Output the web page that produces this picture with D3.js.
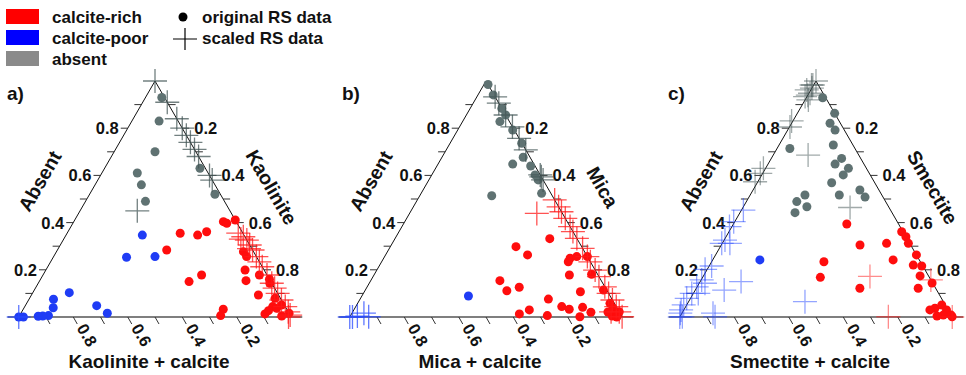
<!DOCTYPE html>
<html><head><meta charset="utf-8">
<script src="https://cdn.jsdelivr.net/npm/d3@7"></script>
<style>
body{margin:0;background:#fff}
svg{display:block}
text{font-family:"Liberation Sans",Arial,sans-serif;font-weight:bold;fill:#111}
</style>
</head><body>
<svg id="chart" width="966" height="375"></svg>
<script>
// ---------- data: each point is [Absent fraction, (mineral + calcite) fraction] ----------
const panelLabels = ["a)", "b)", "c)"];
const mineralNames = ["Kaolinite", "Mica", "Smectite"];
const bottomTitles = ["Kaolinite + calcite", "Mica + calcite", "Smectite + calcite"];
const leftTitle = "Absent";
const tickValues = [0.2, 0.4, 0.6, 0.8];
const tickLabels = ["0.2", "0.4", "0.6", "0.8"];
const minorTickValues = [0.1, 0.2, 0.3, 0.4, 0.5, 0.6, 0.7, 0.8, 0.9];
const legendGroups = ["calcite-rich", "calcite-poor", "absent"];
const legendMarkers = ["original RS data", "scaled RS data"];

// Panel a (Kaolinite)
const aAbsentDots = [[0.93,0.01],[0.83,0.07],[0.70,0.15],[0.61,0.26],[0.56,0.27],[0.49,0.29],[0.63,0.02],[0.52,0.02]];
const aAbsentCross = [[1.0,0],[0.91,0],[0.84,0],[0.80,0],[0.77,0],[0.74,0],[0.71,0],[0.68,0],[0.60,0],[0.58,0],[0.45,0.34]];
const aRichDots = [[0.355,0.23],[0.347,0.17],[0.361,0.13],[0.284,0.315],[0.404,0.047],[0.397,0.038],[0.411,0.0],[0.15,0.30],[0.178,0.24],[0.277,0.037],[0.256,0.036],[0.199,0.07],[0.154,0.089],[0.178,0.028],[0.093,0.074],[0.16,0.0],[0.143,0.007],[0.079,0.02],[0.044,0.046],[0.051,0.01],[0.027,0.07],[0.013,0.09],[0.033,0.233],[0.006,0.256],[0.004,0.033],[0.016,0.0],[0.037,0.035]];
const aRichCross = [[0.355,0.017],[0.34,0.006],[0.33,0.02],[0.326,0],[0.305,0],[0.29,0.01],[0.284,0],[0.256,0],[0.234,0],[0.213,0],[0.178,0],[0.143,0],[0.122,0],[0.10,0],[0.072,0],[0.044,0],[0.022,0],[0.008,0],[0.0,0.01]];
const aPoorDots = [[0.347,0.373],[0.253,0.478],[0.256,0.372],[0.103,0.763],[0.075,0.835],[0.039,0.854],[0.048,0.69],[0.016,0.667],[0.006,0.888],[0.004,0.91],[0.003,0.927],[0,0.983],[0,1.0]];
const aPoorCross = [[0,1.0]];

// Panel b (Mica)
const bAbsentDots = [[0.985,0],[0.941,0.003],[0.884,0],[0.828,0.035],[0.856,0],[0.792,0.006],[0.736,0.001],[0.677,0.025],[0.648,0.078],[0.64,0.016],[0.602,0.019],[0.581,0.018],[0.514,0.222],[0.524,0.034]];
const bAbsentCross = [[0.933,0],[0.906,0],[0.856,0],[0.806,0],[0.757,0],[0.708,0],[0.602,0],[0.581,0],[0.594,0]];
const bRichDots = [[0.332,0.10],[0.298,0.241],[0.263,0.216],[0.154,0.372],[0.111,0.368],[0.126,0.315],[0.076,0.233],[0.03,0.326],[0.013,0.371],[0.006,0.272],[0.044,0.20],[0.033,0.178],[0.001,0.155],[0.041,0.125],[0.02,0.105],[0.249,0.067],[0.234,0.081],[0.256,0.039],[0.256,0.0],[0.178,0.105],[0.181,0.022],[0.107,0.10],[0.114,0.012],[0.058,0.016],[0.037,0.015],[0.016,0.013],[0.022,0],[0.004,0.035],[0,0.02],[0.021,0.042]];
const bRichCross = [[0.439,0.094],[0.496,0],[0.467,0],[0.446,0],[0.418,0],[0.383,0],[0.362,0],[0.333,0],[0.291,0],[0.256,0],[0.234,0],[0.199,0],[0.171,0],[0.128,0],[0.10,0],[0.072,0],[0.044,0],[0.022,0],[0.001,0],[0.022,0.03]];
const bPoorDots = [[0.089,0.52]];
const bPoorCross = [[0,1.0],[0.004,0.97],[0.016,0.94],[0.001,0.93],[0,0.99]];

// Panel c (Smectite)
const cAbsentDots = [[0.929,0.011],[0.863,0],[0.821,0.038],[0.792,0.034],[0.714,0.239],[0.729,0.072],[0.672,0.07],[0.648,0.106],[0.63,0.066],[0.602,0.099],[0.569,0.158],[0.517,0.156],[0.538,0.07],[0.508,0.066],[0.517,0.282],[0.489,0.326],[0.467,0.30],[0.442,0.356]];
const cAbsentCross = [[1.0,0],[0.983,0.025],[0.962,0.053],[0.948,0.048],[0.934,0.073],[0.92,0.068],[0.983,0.02],[0.97,0.03],[0.94,0.06],[0.831,0.174],[0.805,0.193],[0.63,0.378],[0.609,0.40],[0.573,0.437],[0.686,0.186],[0.464,0.143]];
const cRichDots = [[0.394,0.19],[0.305,0.186],[0.234,0.354],[0.168,0.40],[0.122,0.278],[0.312,0.085],[0.242,0.096],[0.361,0.005],[0.34,0],[0.312,0.005],[0.263,0],[0.22,0.033],[0.216,0.004],[0.174,0.031],[0.122,0.064],[0.144,0.002],[0.037,0.045],[0.051,0.013],[0.03,0.006],[0.008,0.029],[0.001,0],[0.008,0],[0.004,0.054],[0.03,0.067]];
const cRichCross = [[0.172,0.216],[0.157,0],[0.001,0.234],[0,0]];
const cPoorDots = [[0.242,0.585]];
const cPoorCross = [[0.453,0.54],[0.404,0.60],[0.383,0.626],[0.326,0.671],[0.312,0.69],[0.312,0.66],[0.216,0.775],[0.202,0.806],[0.157,0.841],[0.143,0.836],[0.128,0.874],[0.10,0.906],[0.10,0.882],[0.079,0.935],[0.051,0.96],[0.03,0.98],[0.016,0.99],[0.001,0.99],[0,1.0],[0.114,0.78],[0.15,0.70],[0.016,0.87],[0.001,0.87],[0.065,0.508]];

const panels = [
  {dots: {absent: aAbsentDots, poor: aPoorDots, rich: aRichDots}, cross: {absent: aAbsentCross, poor: aPoorCross, rich: aRichCross}},
  {dots: {absent: bAbsentDots, poor: bPoorDots, rich: bRichDots}, cross: {absent: bAbsentCross, poor: bPoorCross, rich: bRichCross}},
  {dots: {absent: cAbsentDots, poor: cPoorDots, rich: cRichDots}, cross: {absent: cAbsentCross, poor: cPoorCross, rich: cRichCross}}
];

// ---------- styles / layout ----------
const dotColor = {rich: "#ff0d0d", poor: "#1f3cf5", absent: "#5f7272"};
const crossColor = {rich: "#ff1a1a", poor: "#2a4bff", absent: "#435656"};
const crossOpacity = [0.75, 0.75, 0.5];
const apexX = [155, 486, 816];
const topY = 81, baseY = 317, halfW = 136.25;
const svg = d3.select("#chart");

panels.forEach((p, i) => {
  const xs = d3.scaleLinear().domain([-1, 1]).range([apexX[i] - halfW, apexX[i] + halfW]);
  const ys = d3.scaleLinear().domain([0, 1]).range([baseY, topY]);
  const proj = ([a, c]) => [xs((1 - a - c) - c), ys(a)];
  const g = svg.append("g");

  g.append("line").attr("x1", xs(-1) - 11).attr("x2", xs(1) + 11).attr("y1", ys(0)).attr("y2", ys(0))
    .attr("stroke", "#555").attr("stroke-width", 1.4);
  const L = proj([0, 1]), T = proj([1, 0]), R = proj([0, 0]);
  g.append("path").attr("d", `M${L[0]},${L[1]}L${T[0]},${T[1]}L${R[0]},${R[1]}`)
    .attr("fill", "none").attr("stroke", "#111").attr("stroke-width", 1);

  minorTickValues.forEach(t => {
    const pl = proj([t, 1 - t]);
    g.append("line").attr("x1", pl[0]).attr("x2", pl[0] - 7).attr("y1", pl[1]).attr("y2", pl[1]).attr("stroke", "#333");
    const pr = proj([1 - t, 0]);
    g.append("line").attr("x1", pr[0]).attr("x2", pr[0] + 7).attr("y1", pr[1]).attr("y2", pr[1]).attr("stroke", "#333");
    const pb = proj([0, t]);
    g.append("line").attr("x1", pb[0]).attr("x2", pb[0] + 4).attr("y1", pb[1]).attr("y2", pb[1] + 7).attr("stroke", "#333");
  });
  tickValues.forEach((t, k) => {
    const pl = proj([t, 1 - t]);
    g.append("text").attr("x", pl[0] - 9).attr("y", pl[1]).attr("dy", "0.36em").attr("text-anchor", "end")
      .style("font-size", "16.5px").text(tickLabels[k]);
    const pr = proj([1 - t, 0]);
    g.append("text").attr("x", pr[0] + 12).attr("y", pr[1]).attr("dy", "0.36em")
      .style("font-size", "16.5px").text(tickLabels[k]);
    const pb = proj([0, t]);
    g.append("text").attr("transform", `translate(${pb[0] + 14},${pb[1] + 18}) rotate(60)`)
      .attr("text-anchor", "middle").attr("dy", "0.36em").style("font-size", "16.5px").text(tickLabels[k]);
  });

  const midL = [(L[0] + T[0]) / 2, (L[1] + T[1]) / 2];
  const midR = [(R[0] + T[0]) / 2, (R[1] + T[1]) / 2];
  const s3 = Math.sqrt(3) / 2;
  const lt = [midL[0] - 50 * s3 - 8 * 0.5, midL[1] - 50 * 0.5 + 8 * s3];
  g.append("text").attr("transform", `translate(${lt[0]},${lt[1]}) rotate(-60)`)
    .attr("text-anchor", "middle").attr("dy", "0.36em").style("font-size", "19.5px").text(leftTitle);
  const rt = [midR[0] + 48 * s3 + 14 * 0.5, midR[1] - 48 * 0.5 + 14 * s3];
  g.append("text").attr("transform", `translate(${rt[0]},${rt[1]}) rotate(60)`)
    .attr("text-anchor", "middle").attr("dy", "0.36em").style("font-size", "19.5px").text(mineralNames[i]);
  g.append("text").attr("x", apexX[i] - 6).attr("y", 368).attr("text-anchor", "middle")
    .style("font-size", "19px").text(bottomTitles[i]);

  g.append("text").attr("x", [7, 342, 668][i]).attr("y", 100).style("font-size", "19px").text(panelLabels[i]);

  ["absent", "poor", "rich"].forEach(k => {
    g.selectAll(null).data(p.dots[k]).enter().append("circle")
      .attr("cx", d => proj(d)[0]).attr("cy", d => proj(d)[1]).attr("r", 4.5).attr("fill", dotColor[k]);
  });
  ["absent", "poor", "rich"].forEach(k => {
    g.selectAll(null).data(p.cross[k]).enter().append("path")
      .attr("d", d => { const [x, y] = proj(d); return `M${x - 12},${y}H${x + 12}M${x},${y - 12}V${y + 12}`; })
      .attr("stroke", crossColor[k]).attr("stroke-width", 1.3).attr("stroke-opacity", crossOpacity[i]).attr("fill", "none");
  });
});

// ---------- legend ----------
const legColors = ["#ff0000", "#0000ff", "#8a8a8a"];
const legBase = [23, 44, 65];
legendGroups.forEach((name, k) => {
  svg.append("rect").attr("x", 6).attr("y", legBase[k] - 14).attr("width", 33).attr("height", 15).attr("fill", legColors[k]);
  svg.append("text").attr("x", 52).attr("y", legBase[k]).style("font-size", "17px").text(name);
});
svg.append("circle").attr("cx", 183).attr("cy", 17).attr("r", 4.5).attr("fill", "#000");
svg.append("path").attr("d", "M173,39H197M185,28V50").attr("stroke", "#000").attr("stroke-width", 1.2);
legendMarkers.forEach((name, k) => {
  svg.append("text").attr("x", 202).attr("y", legBase[k]).style("font-size", "17px").text(name);
});
</script>
</body></html>
